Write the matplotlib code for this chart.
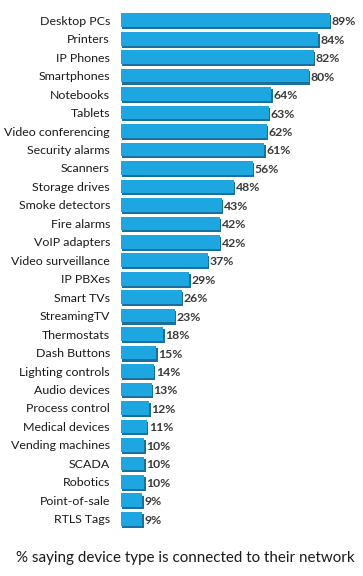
import numpy as np
import matplotlib.pyplot as plt
import matplotlib.patheffects as pe

devices = ["Desktop PCs", "Printers", "IP Phones", "Smartphones", "Notebooks",
           "Tablets", "Video conferencing", "Security alarms", "Scanners",
           "Storage drives", "Smoke detectors", "Fire alarms", "VoIP adapters",
           "Video surveillance", "IP PBXes", "Smart TVs", "StreamingTV",
           "Thermostats", "Dash Buttons", "Lighting controls", "Audio devices",
           "Process control", "Medical devices", "Vending machines", "SCADA",
           "Robotics", "Point-of-sale", "RTLS Tags"]
pct = [89, 84, 82, 80, 64, 63, 62, 61, 56, 48, 43, 42, 42, 37, 29, 26, 23,
       18, 15, 14, 13, 12, 11, 10, 10, 10, 9, 9]

BAR = '#1ea6e0'
SHADOW = '#17719c'

plt.rcParams['font.family'] = ['Lato', 'DejaVu Sans']

fig = plt.figure(figsize=(3.63, 5.76), dpi=100)
# axes box in pixel terms: bars start at x~121, rows from y~11 to y~528
ax = fig.add_axes([121 / 363, 1 - 528 / 576, 1 - 121 / 363, (528 - 11) / 576])

y = np.arange(len(devices))
bars = ax.barh(y, pct, height=0.74, color=BAR, edgecolor='none', zorder=2)
for b in bars:
    b.set_path_effects([pe.SimplePatchShadow(offset=(1.0, -1.5), shadow_rgbFace=SHADOW, alpha=1.0),
                        pe.Normal()])

ax.set_ylim(len(devices) - 0.5, -0.5)
ax.set_xlim(0, 103)

for yi, v in zip(y, pct):
    ax.text(v + 0.8, yi + 0.08, f"{v}%", va='center', ha='left', fontsize=8.8,
            fontweight='bold', color='#3a3a3a')

ax.set_yticks(y)
ax.set_yticklabels(devices, fontsize=8.9, color='#1a1a1a')
ax.tick_params(axis='y', length=0, pad=8)
ax.set_xticks([])
for s in ax.spines.values():
    s.set_visible(False)

fig.text(0.511, 1 - 558 / 576, "% saying device type is connected to their network",
         ha='center', va='center', fontsize=10.9, color='#1a1a1a')

fig.savefig("out.png", dpi=100)
